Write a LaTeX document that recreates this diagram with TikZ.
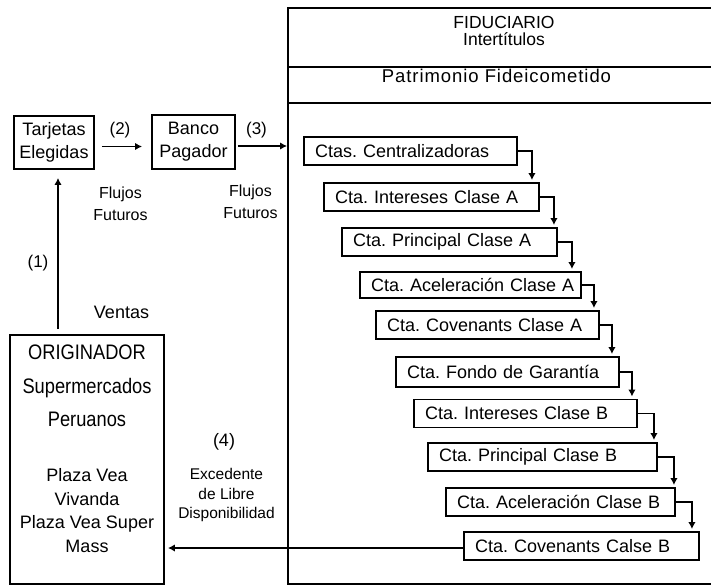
\documentclass[tikz,border=0pt]{standalone}
\usepackage{fontspec}
\setmainfont{Liberation Sans}
\newfontfamily\angosta[FakeStretch=0.87]{Liberation Sans}
\newcommand{\grande}[1]{{\angosta\fontsize{21}{23.5}\selectfont #1}}
\frenchspacing
\usetikzlibrary{arrows.meta}
\tikzset{flecha/.style = {-{Latex[length = 7pt, width = 7.5pt]}, line width = 1.9pt}}
\tikzset{caja/.style = {draw, line width = 1.9pt, align = center, inner sep = 0pt}}
\tikzset{cta/.style = {draw, line width = 1.9pt, align = left, inner xsep = 11pt,
                       inner ysep = 0pt, minimum height = 28pt}}
\tikzset{rotulo/.style = {align = center, inner sep = 0pt}}

\begin{document}
\begin{tikzpicture}[x = 1pt, y = -1pt, font = \fontsize{18}{23}\selectfont]
      \useasboundingbox (0, 0) rectangle (711, 586);

      \node (tarj) at (54, 142.5) [caja, minimum width = 80pt, minimum height = 53pt] {Tarjetas\\Elegidas};
      \node (banco) at (193.5, 142) [caja, minimum width = 83pt, minimum height = 54pt] {Banco\\Pagador};
      \node (orig) at (87, 459.5) [caja, minimum width = 154pt, minimum height = 249pt] {};
      \node (fid) at (502, 296) [caja, minimum width = 428pt, minimum height = 576pt] {};

      \draw [line width = 1.9pt] (fid.west |- 0, 67) -- (fid.east |- 0, 67);
      \draw [line width = 1.9pt] (fid.west |- 0, 103) -- (fid.east |- 0, 103);

      \node (fidtit) at (504, 31) [rotulo, font = {\fontsize{17.5}{17}\selectfont\lineskiplimit -20pt\relax}]
            {FIDUCIARIO\\Intertítulos};
      \node (patri) at (496.5, 75.5) [rotulo, font = {\fontsize{18.5}{22}\selectfont\addfontfeatures{LetterSpace = 5}}]
            {Patrimonio Fideicometido};

      \node (origtxt) at (87, 345) [rotulo, anchor = north, font = \fontsize{18}{23.5}\selectfont]
            {\grande{ORIGINADOR}\\[10pt]\grande{Supermercados}\\[10pt]\grande{Peruanos}\\[31.5pt]
             Plaza Vea\\Vivanda\\Plaza Vea Super\\Mass};

      \node (c1) at (410.5, 151) [cta, text width = 191pt] {\mbox{Ctas. Centralizadoras}};
      \node (c2) at (431.5, 197) [cta, text width = 193pt] {\mbox{Cta. Intereses Clase A}};
      \node (c3) at (449.5, 242) [cta, text width = 193pt] {\mbox{Cta. Principal Clase A}};
      \node (c4) at (470.5, 285) [cta, text width = 199pt, minimum height = 26pt] {\mbox{Cta. Aceleración Clase A}};
      \node (c5) at (487.5, 325) [cta, text width = 201pt] {\mbox{Cta. Covenants Clase A}};
      \node (c6) at (507.5, 372) [cta, text width = 201pt, minimum height = 30pt] {\mbox{Cta. Fondo de Garantía}};
      \node (c7) at (525.5, 413.5) [cta, text width = 201pt] {\mbox{Cta. Intereses Clase B}};
      \node (c8) at (542.5, 457) [cta, text width = 207pt] {\mbox{Cta. Principal Clase B}};
      \node (c9) at (560.5, 502) [cta, text width = 207pt] {\mbox{Cta. Aceleración Clase B}};
      \node (c10) at (581.5, 546) [cta, text width = 213pt] {\mbox{Cta. Covenants Calse B}};

      \draw [flecha, shorten >= 2pt] (c1.east) -- ++(14, 0) coordinate (k1) -- (k1 |- c2.north);
      \draw [flecha, shorten >= 2pt] (c2.east) -- ++(14, 0) coordinate (k2) -- (k2 |- c3.north);
      \draw [flecha, shorten >= 2pt] (c3.east) -- ++(14, 0) coordinate (k3) -- (k3 |- c4.north);
      \draw [flecha, shorten >= 2pt] (c4.east) -- ++(12, 0) coordinate (k4) -- (k4 |- c5.north);
      \draw [flecha, shorten >= 2pt] (c5.east) -- ++(12, 0) coordinate (k5) -- (k5 |- c6.north);
      \draw [flecha, shorten >= 2pt] (c6.east) -- ++(12, 0) coordinate (k6) -- (k6 |- c7.north);
      \draw [flecha, shorten >= 2pt] (c7.east) -- ++(16, 0) coordinate (k7) -- (k7 |- c8.north);
      \draw [flecha, shorten >= 2pt] (c8.east) -- ++(16, 0) coordinate (k8) -- (k8 |- c9.north);
      \draw [flecha, shorten >= 2pt] (c9.east) -- ++(16, 0) coordinate (k9) -- (k9 |- c10.north);

      \draw [flecha, shorten <= 5pt, shorten >= 8pt] ([xshift = 4pt] tarj.south |- orig.north) -- ([xshift = 4pt] tarj.south);
      \draw [flecha, shorten <= 7pt, shorten >= 9pt] ([yshift = -4pt] tarj.east) -- ([yshift = -4pt] tarj.east -| banco.west);
      \draw [flecha, shorten <= 2pt] ([yshift = -4pt] banco.east) -- ([yshift = -4pt] banco.east -| fid.west);
      \draw [flecha, shorten >= 3pt] ([yshift = -2pt] c10.west) -- ([yshift = -2pt] c10.west -| orig.east);

      \node (n1) at (38, 263.5) [rotulo, font = \fontsize{17}{20}\selectfont] {(1)};
      \node (n2) at (120, 130) [rotulo, font = \fontsize{17}{20}\selectfont] {(2)};
      \node (n3) at (256.5, 130) [rotulo, font = \fontsize{17}{20}\selectfont] {(3)};
      \node (n4) at (224, 442) [rotulo] {(4)};
      \node (ventas) at (121.5, 312) [rotulo] {Ventas};
      \node (flujos1) at (120.5, 204) [rotulo, font = \fontsize{16}{22}\selectfont] {Flujos\\Futuros};
      \node (flujos2) at (250.5, 202) [rotulo, font = \fontsize{16}{22}\selectfont] {Flujos\\Futuros};
      \node (exced) at (226.5, 495) [rotulo, font = \fontsize{15.5}{19.5}\selectfont]
            {Excedente\\de Libre\\Disponibilidad};
    \end{tikzpicture}
\end{document}
